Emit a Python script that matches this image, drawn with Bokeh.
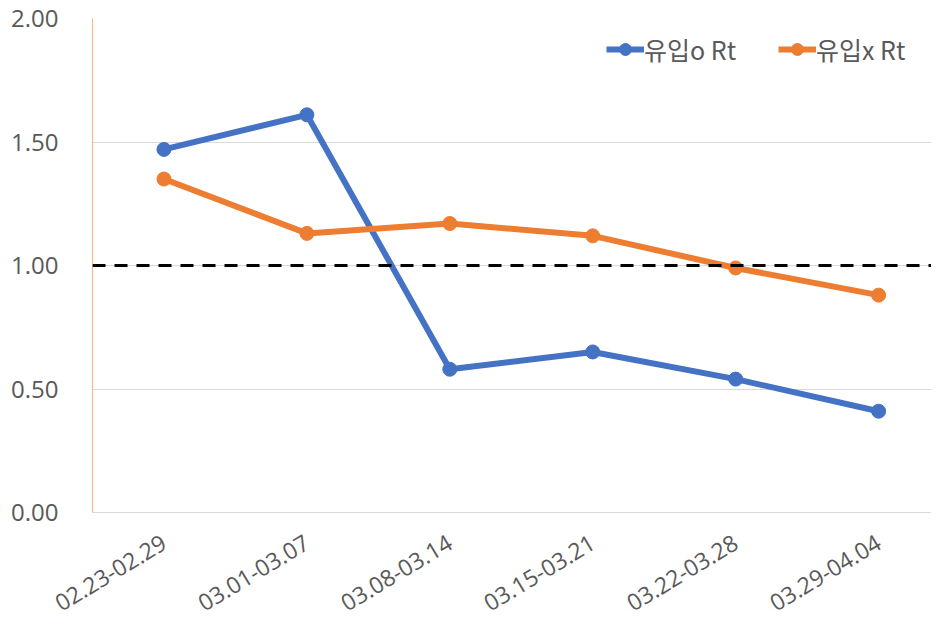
import math
from bokeh.plotting import figure
from bokeh.models import Span, FixedTicker, Legend, LegendItem, NumeralTickFormatter
from bokeh.embed import file_html
from bokeh.resources import INLINE

categories = ["02.23-02.29", "03.01-03.07", "03.08-03.14", "03.15-03.21", "03.22-03.28", "03.29-04.04"]
rt_import_o = [1.47, 1.61, 0.58, 0.65, 0.54, 0.41]
rt_import_x = [1.35, 1.13, 1.17, 1.12, 0.99, 0.88]
y_ticks = [0.0, 0.5, 1.0, 1.5, 2.0]
threshold = 1.0

xs = list(range(len(categories)))
BLUE = "#4472C4"
ORANGE = "#ED7D31"

p = figure(width=931, height=622, output_backend="svg", toolbar_location=None,
           x_range=(-0.5, 5.37), y_range=(0, 2),
           min_border_left=92, min_border_right=0, min_border_top=18, min_border_bottom=110)
p.outline_line_color = None
p.background_fill_color = "white"

p.xgrid.grid_line_color = None
p.ygrid.grid_line_color = "#D9D9D9"
p.ygrid.grid_line_width = 1

p.yaxis.ticker = FixedTicker(ticks=y_ticks)
p.yaxis.formatter = NumeralTickFormatter(format="0.00")
p.yaxis.axis_line_color = "#F2B48A"
p.yaxis.major_tick_line_color = None
p.yaxis.minor_tick_line_color = None
p.yaxis.major_label_text_font = "Open Sans"
p.yaxis.major_label_text_font_size = "24px"
p.yaxis.major_label_text_color = "#595959"
p.yaxis.major_label_standoff = 28

p.xaxis.ticker = FixedTicker(ticks=xs)
p.xaxis.major_label_overrides = {i: c for i, c in zip(xs, categories)}
p.xaxis.axis_line_color = "#D9D9D9"
p.xaxis.major_tick_line_color = None
p.xaxis.minor_tick_line_color = None
p.xaxis.major_label_orientation = math.pi / 5.8
p.xaxis.major_label_text_font = "Open Sans"
p.xaxis.major_label_text_font_size = "23px"
p.xaxis.major_label_text_color = "#595959"
p.xaxis.major_label_standoff = 22

span = Span(location=threshold, dimension="width", line_color="black", line_width=3, line_dash="13 9")
p.add_layout(span)

l1 = p.line(xs, rt_import_o, line_color=BLUE, line_width=6)
c1 = p.scatter(xs, rt_import_o, size=14, fill_color=BLUE, line_color=BLUE)
l2 = p.line(xs, rt_import_x, line_color=ORANGE, line_width=6)
c2 = p.scatter(xs, rt_import_x, size=14, fill_color=ORANGE, line_color=ORANGE)

legend = Legend(items=[LegendItem(label="유입o Rt", renderers=[l1, c1]),
                       LegendItem(label="유입x Rt", renderers=[l2, c2])],
                orientation="horizontal", location=(514, 445))
legend.label_text_font = "Noto Sans CJK KR"
legend.label_text_font_size = "25px"
legend.label_text_color = "#595959"
legend.border_line_color = None
legend.background_fill_alpha = 0
legend.glyph_width = 38
legend.glyph_height = 30
legend.spacing = 42
legend.margin = 0
legend.padding = 8
legend.label_standoff = 0
p.add_layout(legend)

open("out.html", "w").write(file_html(p, INLINE))
